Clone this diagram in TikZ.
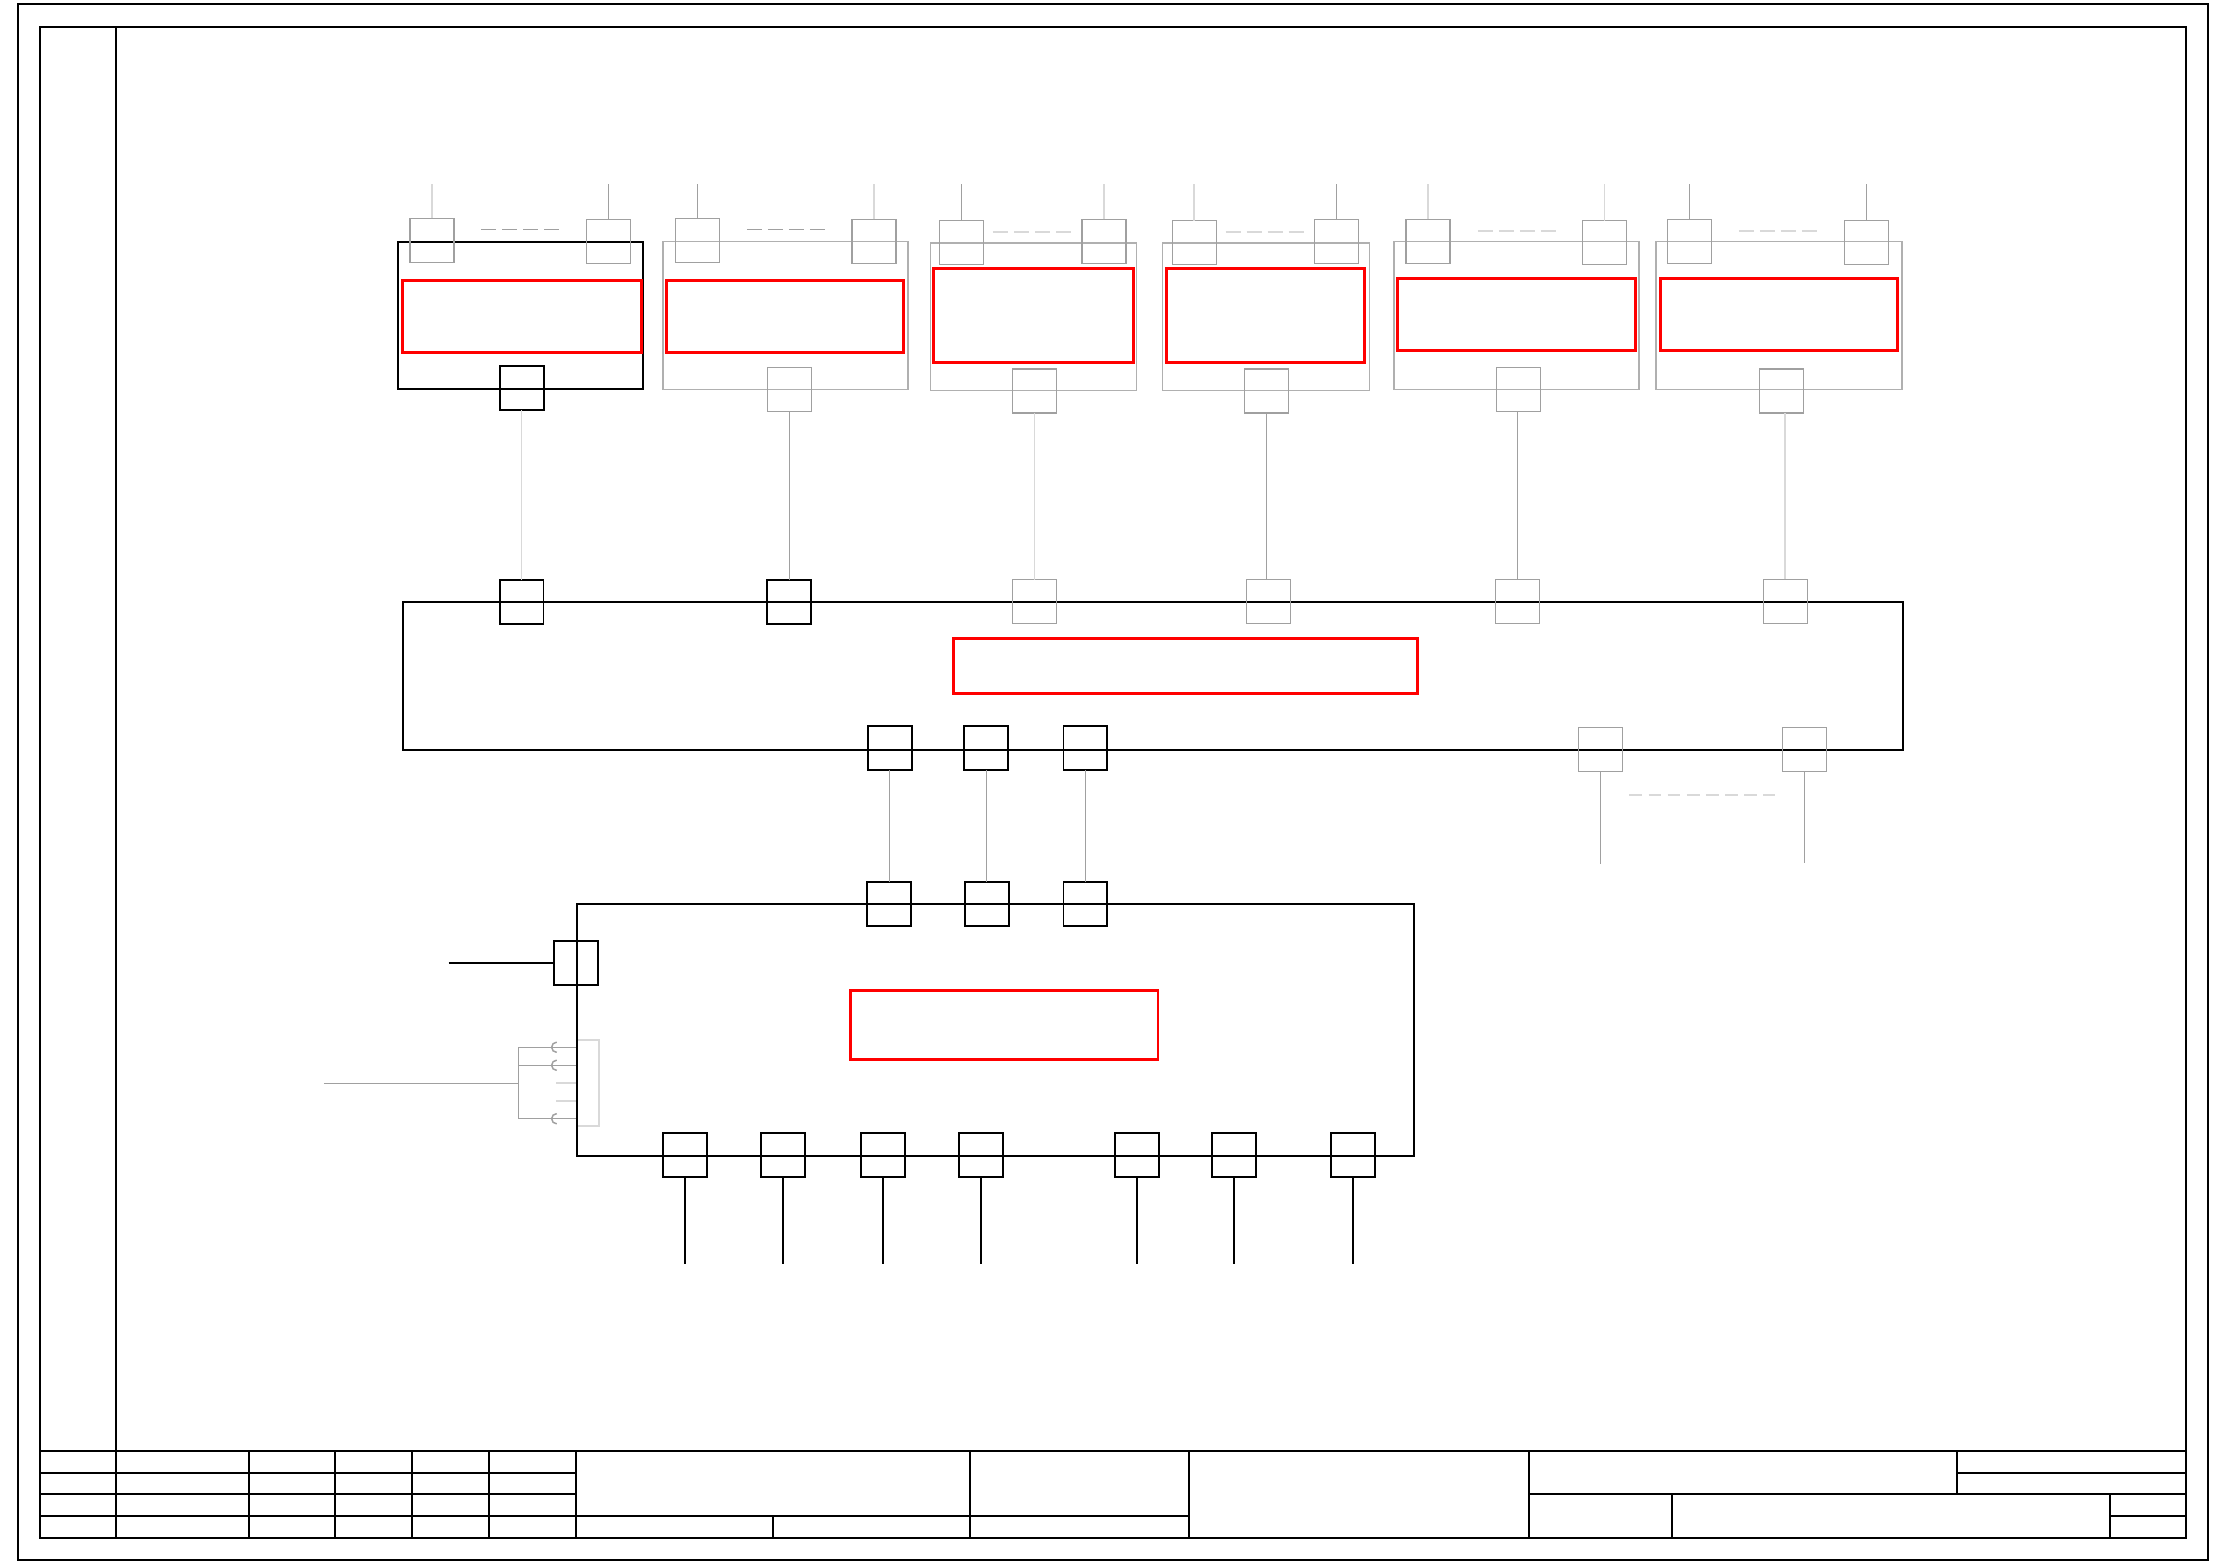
\documentclass[tikz,border=0pt]{standalone}
\definecolor{midgray}{HTML}{A0A0A0}
\definecolor{frgray}{HTML}{B0B0B0}
\definecolor{ltgray}{HTML}{D9D9D9}
\newcommand\mkrect[6]{\node[#1, minimum width={(#5-#3)*0.01cm}, minimum height={(#6-#4)*0.01cm}] (#2) at ({(#3+#5)/2},{(#4+#6)/2}) {};}
\tikzset{
  base/.style={inner sep=0pt, outer sep=0pt},
  frm/.style={base, draw=black, line width=0.4pt},
  frmg/.style={base, draw=frgray, line width=0.3pt},
  redb/.style={base, draw=red, line width=0.6pt},
  sqb/.style={base, draw=black, line width=0.4pt, minimum width=0.31cm, minimum height=0.31cm},
  sqg/.style={sqb, draw=midgray, line width=0.3pt},
  connbox/.style={base, draw=ltgray, line width=0.35pt},
  gl/.style={draw=midgray, line width=0.3pt},
  ll/.style={draw=ltgray, line width=0.35pt},
  bl/.style={draw=black, line width=0.4pt},
  tb/.style={draw=black, line width=0.4pt},
  dshfour/.style={dash pattern=on 3.02pt off 1.2pt},
  dsheight/.style={dash pattern=on 2.56pt off 1.28pt},
}
\begin{document}
\begin{tikzpicture}[x=0.01cm,y=-0.01cm]
\useasboundingbox (0,0) rectangle (1568,1106);
% sheet frames
\mkrect{frm}{outer}{12.5}{3}{1557.1}{1100.1}
\mkrect{frm}{inner}{28.1}{19}{1542.1}{1085.1}
% title block
\draw[tb] (82,19) -- (82,1085.1);
\draw[tb] (28.1,1023.3) -- (1542.1,1023.3);
\foreach \y in {1038.8,1054.1,1069.6} \draw[tb] (28.1,\y) -- (406.4,\y);
\foreach \x in {175.4,236.4,290.9,344.9,406.4,684.3,838.7,1078.6} \draw[tb] (\x,1023.3) -- (\x,1085.1);
\draw[tb] (406.4,1069.6) -- (838.7,1069.6);
\draw[tb] (545.1,1069.6) -- (545.1,1085.1);
\draw[tb] (1078.6,1054.1) -- (1542.1,1054.1);
\draw[tb] (1380.5,1023.3) -- (1380.5,1054.1);
\draw[tb] (1380.5,1038.8) -- (1542.1,1038.8);
\draw[tb] (1179.1,1054.1) -- (1179.1,1085.1);
\draw[tb] (1488.5,1054.1) -- (1488.5,1085.1);
\draw[tb] (1488.5,1069.6) -- (1542.1,1069.6);

\coordinate (topY) at (0,129.8);

% module 1
\mkrect{frm}{m1}{280.9}{170.9}{453.2}{274.6}
\mkrect{redb}{m1r}{284.2}{198.2}{452.7}{248.3}
\node[sqg] (m1tl) at (304.7,169.5) {};
\node[sqg] (m1tr) at (429.15,170.2) {};
\node[sqb] (m1b) at (368.45,273.9) {};
\draw[ll] (m1tl.north) -- (m1tl.north |- topY);
\draw[gl] (m1tr.north) -- (m1tr.north |- topY);
\draw[gl,dshfour] (339.3,161.8) -- (394.3,161.8);
% module 2
\mkrect{frmg}{m2}{467.8}{170.5}{640.5}{274.6}
\mkrect{redb}{m2r}{470.3}{198.2}{637.6}{248.3}
\node[sqg] (m2tl) at (491.9,169.5) {};
\node[sqg] (m2tr) at (616.55,170.2) {};
\node[sqg] (m2b) at (556.85,274.6) {};
\draw[gl] (m2tl.north) -- (m2tl.north |- topY);
\draw[ll] (m2tr.north) -- (m2tr.north |- topY);
\draw[gl,dshfour] (526.8,161.8) -- (581.6,161.8);
% module 3
\mkrect{frmg}{m3}{656.2}{171.4}{801.5}{275.3}
\mkrect{redb}{m3r}{658.6}{189.5}{799.2}{255.8}
\node[sqg] (m3tl) at (678.1,171.2) {};
\node[sqg] (m3tr) at (778.8,170.2) {};
\node[sqg] (m3b) at (729.6,275.65) {};
\draw[gl] (m3tl.north) -- (m3tl.north |- topY);
\draw[ll] (m3tr.north) -- (m3tr.north |- topY);
\draw[ll,dshfour] (700.4,163.4) -- (755.4,163.4);
% module 4
\mkrect{frmg}{m4}{820.1}{171.4}{965.9}{275.3}
\mkrect{redb}{m4r}{823}{189.5}{962.8}{255.8}
\node[sqg] (m4tl) at (842.4,171.2) {};
\node[sqg] (m4tr) at (942.6,170.2) {};
\node[sqg] (m4b) at (893.4,275.65) {};
\draw[ll] (m4tl.north) -- (m4tl.north |- topY);
\draw[gl] (m4tr.north) -- (m4tr.north |- topY);
\draw[ll,dshfour] (864.5,163.4) -- (919.8,163.4);
% module 5
\mkrect{frmg}{m5}{983.1}{170.5}{1156.1}{274.6}
\mkrect{redb}{m5r}{985.8}{196.3}{1153.4}{247.4}
\node[sqg] (m5tl) at (1007.4,170.2) {};
\node[sqg] (m5tr) at (1131.75,171.2) {};
\node[sqg] (m5b) at (1071.15,274.6) {};
\draw[ll] (m5tl.north) -- (m5tl.north |- topY);
\draw[ll] (m5tr.north) -- (m5tr.north |- topY);
\draw[ll,dshfour] (1042.4,162.7) -- (1097.3,162.7);
% module 6
\mkrect{frmg}{m6}{1168.2}{170.5}{1341.6}{274.6}
\mkrect{redb}{m6r}{1170.9}{196.3}{1338.7}{247.4}
\node[sqg] (m6tl) at (1191.85,170.2) {};
\node[sqg] (m6tr) at (1316.5,171.2) {};
\node[sqg] (m6b) at (1256.5,275.65) {};
\draw[gl] (m6tl.north) -- (m6tl.north |- topY);
\draw[gl] (m6tr.north) -- (m6tr.north |- topY);
\draw[ll,dshfour] (1226.5,162.7) -- (1281.4,162.7);

% bus
\mkrect{frm}{bus}{284.5}{424.9}{1342.5}{529.2}
\mkrect{redb}{busr}{672.9}{450.7}{999.5}{489.3}
\node[sqb] (b1) at (367.85,424.9) {};
\node[sqb] (b2) at (556.85,424.9) {};
\node[sqg] (b3) at (729.6,424.3) {};
\node[sqg] (b4) at (894.75,424.3) {};
\node[sqg] (b5) at (1070.25,424.15) {};
\node[sqg] (b6) at (1259.3,424.15) {};
\draw[ll] (b1.north) -- (b1.north |- m1b.south);
\draw[gl] (b2.north) -- (b2.north |- m2b.south);
\draw[ll] (b3.north) -- (b3.north |- m3b.south);
\draw[gl] (m4b.south) -- (m4b.south |- b4.north);
\draw[gl] (b5.north) -- (b5.north |- m5b.south);
\draw[ll] (b6.north) -- (b6.north |- m6b.south);
\node[sqb] (c1) at (627.45,527.8) {};
\node[sqb] (c2) at (695.7,527.8) {};
\node[sqb] (c3) at (765.65,527.8) {};
\node[sqg] (c4) at (1128.8,528.5) {};
\node[sqg] (c5) at (1272.7,528.5) {};
\coordinate (c4end) at (1128.8,609.6);
\coordinate (c5end) at (1272.7,609);
\draw[gl] (c4.south) -- (c4end);
\draw[gl] (c5.south) -- (c5end);
\draw[ll,dsheight] (1149.3,560.5) -- (1252,560.5);

% connector symbol (left of lower box)
\mkrect{connbox}{conn}{407.2}{733.8}{422.5}{794}
\coordinate (cj) at (365.6,764.1);
\coordinate (cin) at (228.5,764.1);
\draw[gl] (cin) -- (cj);
\draw[gl] (365.6,738.7) -- (365.6,789.1);
\foreach \y in {738.7,751.4,789.1}{
  \draw[gl] (365.6,\y) -- (407.2,\y);
  \draw[gl] (392.7,\y-3.6) arc[start angle=270, end angle=90, radius=3.6];
}
\foreach \y in {764.1,776.4} \draw[ll] (392.2,\y) -- (406.6,\y);

% lower box
\mkrect{frm}{low}{407.2}{637.9}{997.6}{815.4}
\mkrect{redb}{lowr}{599.6}{699}{816.8}{747}
\node[sqb] (d1) at (627.3,637.9) {};
\node[sqb] (d2) at (696.05,637.9) {};
\node[sqb] (d3) at (765.65,637.9) {};
\draw[gl] (c1.south) -- (c1.south |- d1.north);
\draw[gl] (c2.south) -- (c2.south |- d2.north);
\draw[gl] (c3.south) -- (c3.south |- d3.north);
\node[sqb] (l1) at (406.5,679.5) {};
\coordinate (lin) at (316.5,679.5);
\draw[bl] (lin) -- (l1.west);
\coordinate (botY) at (0,891.6);
\foreach \n/\x in {1/483,2/552.3,3/622.6,4/692.2,5/801.9,6/870.6,7/954}{
  \node[sqb] (e\n) at (\x,814.9) {};
  \draw[bl] (e\n.south) -- (e\n.south |- botY);
}
\end{tikzpicture}
\end{document}
